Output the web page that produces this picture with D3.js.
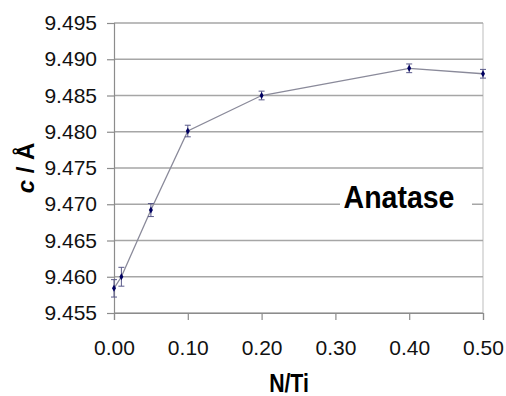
<!DOCTYPE html>
<html>
<head>
<meta charset="utf-8">
<script src="https://cdn.jsdelivr.net/npm/d3@7"></script>
<style>
  body { margin: 0; background: #fff; }
  svg { display: block; font-family: "Liberation Sans", Arial, sans-serif; }
</style>
</head>
<body>
<div id="chart"></div>
<script>
var width = 506,
    height = 396;

// data
var ratio = [0.00, 0.01, 0.05, 0.10, 0.20, 0.40, 0.50];
var cValue = [9.4584, 9.4600, 9.4692, 9.4801, 9.4850, 9.48875, 9.4880];
var cError = [0.0012, 0.0013, 0.0009, 0.0008, 0.0006, 0.0006, 0.0006];
var xTicks = [0, 0.1, 0.2, 0.3, 0.4, 0.5];
var yTicks = [9.455, 9.460, 9.465, 9.470, 9.475, 9.480, 9.485, 9.490, 9.495];

var x = d3.scaleLinear().domain([0, 0.5]).range([114, 483]);
var y = d3.scaleLinear().domain([9.455, 9.495]).range([313, 23]);

var svg = d3.select("#chart").append("svg")
    .attr("width", width)
    .attr("height", height);

// right border of plot area
svg.append("line")
    .attr("x1", x(0.5)).attr("x2", x(0.5))
    .attr("y1", y(9.495)).attr("y2", y(9.455))
    .attr("stroke", "#c8c8c8").attr("stroke-width", 1.2);

// gridlines
svg.selectAll(".grid").data(yTicks).enter().append("line")
    .attr("class", "grid")
    .attr("x1", x(0)).attr("x2", x(0.5))
    .attr("y1", function(d) { return y(d); })
    .attr("y2", function(d) { return y(d); })
    .attr("stroke", "#a6a6a6").attr("stroke-width", 1.4);

// y axis
var yAxis = svg.append("g")
    .attr("transform", "translate(" + x(0) + ",0)")
    .call(d3.axisLeft(y).tickValues(yTicks).tickSize(7).tickPadding(10).tickFormat(d3.format(".3f")));
yAxis.select(".domain").attr("stroke", "#8c8c8c").attr("stroke-width", 1.2);
yAxis.selectAll(".tick line").attr("stroke", "#8c8c8c").attr("stroke-width", 1.2);
yAxis.selectAll(".tick text").attr("font-size", "21px").attr("fill", "#111")
    .attr("font-family", "'Liberation Sans', Arial, sans-serif");

// x axis
var xAxis = svg.append("g")
    .attr("transform", "translate(0," + y(9.455) + ")")
    .call(d3.axisBottom(x).tickValues(xTicks).tickSize(7).tickPadding(20).tickFormat(d3.format(".2f")));
xAxis.select(".domain").attr("stroke", "#8c8c8c").attr("stroke-width", 1.2);
xAxis.selectAll(".tick line").attr("stroke", "#8c8c8c").attr("stroke-width", 1.2);
xAxis.selectAll(".tick text").attr("font-size", "21px").attr("fill", "#111")
    .attr("font-family", "'Liberation Sans', Arial, sans-serif");

// legend box with label
svg.append("rect")
    .attr("x", 340).attr("y", 184).attr("width", 132).attr("height", 34)
    .attr("fill", "#fff");
svg.append("text")
    .attr("transform", "translate(399,208) scale(0.92,1)")
    .attr("text-anchor", "middle")
    .attr("font-size", "31px").attr("font-weight", "bold").attr("fill", "#000")
    .text("Anatase");

// line
var line = d3.line()
    .x(function(d, i) { return x(ratio[i]); })
    .y(function(d) { return y(d); });
svg.append("path")
    .datum(cValue)
    .attr("d", line)
    .attr("fill", "none")
    .attr("stroke", "#8a8a9a").attr("stroke-width", 1.3);

// error bars
var eb = svg.selectAll(".err").data(cValue).enter().append("g").attr("class", "err");
eb.append("line")
    .attr("x1", function(d, i) { return x(ratio[i]); })
    .attr("x2", function(d, i) { return x(ratio[i]); })
    .attr("y1", function(d, i) { return y(d - cError[i]); })
    .attr("y2", function(d, i) { return y(d + cError[i]); })
    .attr("stroke", "#5a5a8a").attr("stroke-width", 1);
[-1, 1].forEach(function(s) {
    eb.append("line")
        .attr("x1", function(d, i) { return x(ratio[i]) - 3; })
        .attr("x2", function(d, i) { return x(ratio[i]) + 3; })
        .attr("y1", function(d, i) { return y(d + s * cError[i]); })
        .attr("y2", function(d, i) { return y(d + s * cError[i]); })
        .attr("stroke", "#5a5a8a").attr("stroke-width", 1);
});

// markers
svg.selectAll(".pt").data(cValue).enter().append("path")
    .attr("class", "pt")
    .attr("transform", function(d, i) { return "translate(" + x(ratio[i]) + "," + y(d) + ")"; })
    .attr("d", d3.symbol().type(d3.symbolDiamond).size(14))
    .attr("fill", "#000060");

// axis titles
svg.append("text")
    .attr("transform", "translate(289,392) scale(0.85,1)")
    .attr("text-anchor", "middle")
    .attr("font-size", "25px").attr("font-weight", "bold").attr("fill", "#000")
    .text("N/Ti");

var yt = svg.append("text")
    .attr("transform", "translate(34,168) rotate(-90)")
    .attr("text-anchor", "middle")
    .attr("font-size", "24px").attr("font-weight", "bold").attr("fill", "#000");
yt.append("tspan").attr("font-style", "italic").text("c");
yt.append("tspan").text(" / Å");
</script>
</body>
</html>
